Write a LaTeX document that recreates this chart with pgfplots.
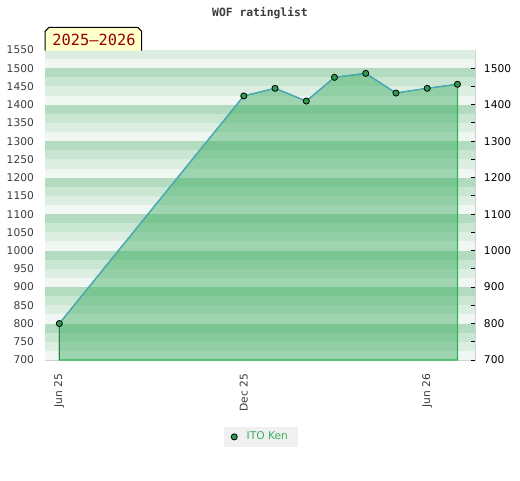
\documentclass[border=0pt]{standalone}
\usepackage{pgfplots}
\pgfplotsset{compat=1.18}
\usepackage{fontspec}
\setmainfont{DejaVu Sans}
\newfontfamily\monofont{DejaVu Sans Mono}
\definecolor{sA}{RGB}{240,247,242}
\definecolor{sB}{RGB}{220,238,226}
\definecolor{sC}{RGB}{200,230,210}
\definecolor{sD}{RGB}{178,219,191}
\definecolor{fillg}{RGB}{51,168,88}
\definecolor{lineb}{RGB}{85,160,215}
\definecolor{lastgreen}{RGB}{40,185,80}
\definecolor{edgel}{RGB}{60,120,80}
\definecolor{markg}{RGB}{45,155,80}
\definecolor{legtext}{RGB}{60,175,95}
\definecolor{boxfill}{RGB}{255,255,204}
\definecolor{boxtext}{RGB}{150,0,0}
\definecolor{lab}{RGB}{60,60,60}
\begin{document}
\begin{tikzpicture}
\useasboundingbox (0,0) rectangle (390pt,360pt);
\begin{axis}[
  scale only axis, width=322.5pt, height=232.5pt,
  at={(33.75pt,90pt)}, anchor=south west,
  xmin=-14.2, xmax=412.4, ymin=700, ymax=1550,
  axis line style={draw=black!18},
  ytick={700,750,...,1550},
  major tick length=0pt,
  /pgf/number format/assume math mode=true,
  /pgf/number format/1000 sep={},
  yticklabel style={font=\fontsize{8}{9}\selectfont, text=lab, xshift=-4.8pt},
  xtick={0,183,365}, xticklabels={Jun 25,Dec 25,Jun 26},
  xticklabel style={font=\fontsize{8}{9}\selectfont, text=lab, rotate=90, anchor=east, xshift=-7pt},
  legend style={at={(0.502,-0.248)}, anchor=center, fill=black!6, draw=none,
     font=\fontsize{8}{9}\selectfont, text=legtext, inner xsep=5.5pt, inner ysep=2pt,
     /tikz/every odd column/.append style={column sep=5pt}},
  legend cell align=left,
]
\pgfplotsinvokeforeach{700,800,...,1500}{
  \fill[sA] (axis cs:-14.2,#1) rectangle (axis cs:412.4,#1+25);
  \fill[sB] (axis cs:-14.2,#1+25) rectangle (axis cs:412.4,#1+50);
  \fill[sC] (axis cs:-14.2,#1+50) rectangle (axis cs:412.4,#1+75);
  \fill[sD] (axis cs:-14.2,#1+75) rectangle (axis cs:412.4,#1+100);
}
\addplot[fill=fillg, fill opacity=0.43, draw=lastgreen, draw opacity=1, line width=1pt, forget plot] table {
x y
0 800
183 1424
214 1445
245 1410
273 1475
304 1486
334 1432
365 1445
395 1456
} \closedcycle;
\addplot[draw=edgel, line width=0.8pt, forget plot] coordinates {(0,700) (0,800)};
\addplot[color=lineb, line width=0.75pt, mark=*, mark size=2.3pt,
  mark options={fill=markg, draw=black, line width=0.6pt}, forget plot] table {
x y
0 800
183 1424
214 1445
245 1410
273 1475
304 1486
334 1432
365 1445
395 1456
};
\addlegendimage{only marks, mark=*, mark size=2.3pt, mark options={fill=markg, draw=black, line width=0.6pt}}
\addlegendentry{ITO Ken}
\end{axis}
\begin{axis}[
  scale only axis, width=322.5pt, height=232.5pt,
  at={(33.75pt,90pt)}, anchor=south west,
  xmin=-14.2, xmax=412.4, ymin=700, ymax=1550,
  axis x line=none, axis y line*=right,
  axis line style={draw=none},
  ytick={700,800,...,1500},
  minor ytick={750,850,...,1450},
  tick align=inside, major tick length=3pt, minor tick length=3pt,
  tick style={black, line width=0.75pt},
  /pgf/number format/assume math mode=true,
  /pgf/number format/1000 sep={},
  yticklabel style={font=\fontsize{8}{9}\selectfont, text=black, xshift=3.2pt},
]
\end{axis}
\begin{scope}[x=0.75pt, y=-0.75pt, shift={(0,360pt)}]
\node[font=\monofont\bfseries\fontsize{8.5}{10}\selectfont, text=lab] at (260,13) {WOF ratinglist};
\draw[fill=boxfill, draw=black, line width=0.75pt] (45,50.7) -- (45,31.3) -- (49,27.3) -- (137.7,27.3) -- (141.7,31.3) -- (141.7,50.7);
\node[font=\monofont\fontsize{11.5}{13}\selectfont, text=boxtext] at (94,39.7) {2025–2026};
\end{scope}
\end{tikzpicture}
\end{document}
